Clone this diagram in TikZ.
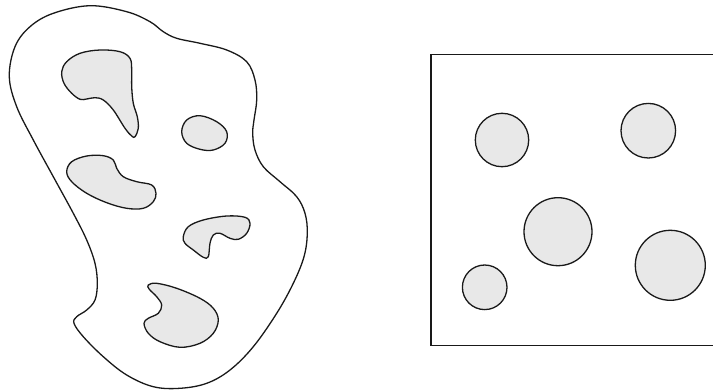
\documentclass[tikz,border=0pt]{standalone}
\begin{document}
\begin{tikzpicture}[x=1pt,y=-1pt,
  outline/.style={draw=black!90,line width=1.3pt},
  grain/.style={outline,fill=gray!18},
  smoothblob/.style={smooth cycle,tension=0.6}]
\useasboundingbox (0,0) rectangle (713,391);
\clip (0,0) rectangle (713,391);
% left: irregular region
\draw[outline] plot[smoothblob] coordinates {
 (9.3,76.7) (15,46.7) (30,26.7) (53.3,13.3) (90,5.7) (126.7,11.7) (150,21.7)
 (163.3,31.7) (176.7,38.3) (200,43.3) (226.7,50) (246.7,61.7) (255,80)
 (256.7,100) (254,120) (252.7,133.3) (255,150) (263.3,166.7) (280,181.7)
 (296.7,196.7) (305,213.3) (307.3,233.3) (304,256.7) (293.3,283.3)
 (276.7,313.3) (253.3,346.7) (230,370) (206.7,383.3) (180,388.3)
 (153.3,386.7) (126.7,375) (103.3,356.7) (83.3,336.7) (74,323.3)
 (76.7,316.7) (86.7,310) (95,300) (97.3,283.3) (95,263.3) (86.7,240)
 (73.3,213.3) (53.3,176.7) (33.3,140) (16.7,106.7)};
\draw[grain] plot[smoothblob] coordinates {
 (61.7,71.7) (66.7,61.7) (80,53.3) (100,50) (120,51.7) (130,58.3) (131.7,70)
 (131.7,86.7) (133.3,103.3) (137.3,116.7) (138.3,128.3) (135,136.7)
 (131.7,136) (125,128.3) (113.3,110) (103.3,100) (95,97.7) (86.7,99)
 (80,99.3) (71.7,93.3) (64,83.3)};
\draw[grain] plot[smoothblob] coordinates {
 (181.7,131.7) (186.7,120) (200,115.7) (216.7,121.7) (226.7,131.7)
 (225,143.3) (213.3,150) (200,149.3) (186.7,143.3)};
\draw[grain] plot[smoothblob] coordinates {
 (66.7,171.7) (71.7,161.7) (86.7,156) (103.3,155.7) (113.3,160) (116.7,168.3)
 (123.3,176.7) (136.7,181.7) (151.7,185) (156,193.3) (153.3,201.7)
 (143.3,208.3) (126.7,208.3) (106.7,202.7) (86.7,193.3) (71.7,181.7)};
\draw[grain] plot[smoothblob] coordinates {
 (183.3,236.7) (188.3,226.7) (203.3,220) (226.7,216) (245,217.3) (250,223.3)
 (246.7,233.3) (238.3,239.3) (230,238.3) (220,233.3) (213.3,235) (210,243.3)
 (208.3,256.7) (203.3,257.3) (193.3,250) (185,243.3)};
\draw[grain] plot[smoothblob] coordinates {
 (148.3,285) (156.7,283.3) (176.7,288.3) (200,298.3) (213.3,308.3) (218.3,320)
 (213.3,333.3) (200,343.3) (180,347.3) (160,341.7) (148.3,333.3) (144,323.3)
 (148.3,318.3) (158.3,313.3) (161.7,305) (156.7,296.7) (149.3,289.3)};
% right: box with circles
\coordinate (tr) at (720,54.5);
\coordinate (tl) at (431,54.5);
\coordinate (bl) at (431,345.5);
\coordinate (br) at (720,345.5);
\draw[outline] (tr) -- (tl) -- (bl) -- (br);
\draw[grain] (502,140) circle[radius=26.7];
\draw[grain] (648.3,130.7) circle[radius=27.3];
\draw[grain] (558,231.7) circle[radius=34];
\draw[grain] (484.7,287.3) circle[radius=22.3];
\draw[grain] (670.3,265.3) circle[radius=35];
\end{tikzpicture}
\end{document}
